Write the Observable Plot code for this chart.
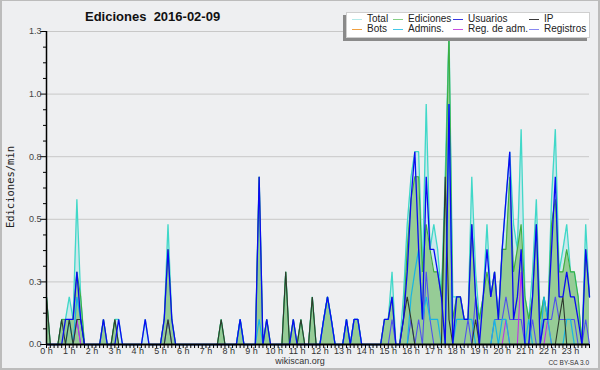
<!DOCTYPE html>
<html>
<head>
<meta charset="utf-8">
<script src="https://cdn.jsdelivr.net/npm/d3@7"></script>
<script src="https://cdn.jsdelivr.net/npm/@observablehq/plot@0.6"></script>
<style>
  html, body { margin: 0; padding: 0; background: #eeeff1; }
  #wrap { position: relative; width: 600px; height: 370px; background: #eeeff1; overflow: hidden;
          font-family: "Liberation Sans", Arial, sans-serif; }
  #frame { position: absolute; left: 0; top: 0; width: 600px; height: 370px; box-sizing: border-box;
           border: 2px solid #bcbcbc; border-top-width: 1px; pointer-events: none; }
  .abs { position: absolute; white-space: nowrap; }
  #title { left: 85px; top: 10px; font-weight: bold; font-size: 13px; line-height: 13px; color: #111; }
  #ylab { left: -40.5px; top: 181px; width: 100px; text-align: center; transform: rotate(-90deg);
          font-family: "DejaVu Sans Mono", monospace; font-size: 10.5px; line-height: 12px; color: #222; }
  #legend { left: 346px; top: 12px; width: 244px; height: 26px; box-sizing: border-box; background: #fff;
            border: 1px solid #cfcfcf; box-shadow: -3px 3px 0 #8a8a8a; }
  .lgline { position: absolute; width: 10px; height: 1px; }
  .lgtext { position: absolute; font-size: 10px; line-height: 10px; color: #222; white-space: nowrap; }
  #site { left: 250px; width: 100px; text-align: center; top: 356px; font-size: 9px; line-height: 10px; color: #333; }
  #lic { right: 11px; top: 359px; font-size: 6.5px; line-height: 7px; color: #333; }
</style>
</head>
<body>
<div id="wrap">
  <div id="chart"></div>
  <div id="title" class="abs"></div>
  <div id="ylab" class="abs"></div>
  <div id="legend" class="abs"></div>
  <div id="site" class="abs"></div>
  <div id="lic" class="abs"></div>
  <div id="frame"></div>
</div>
<script>
// ---------- data (edits per minute, one value every 10 minutes, 2016-02-09) ----------
const titleText = "Ediciones\u00a0\u00a02016-02-09";
const yAxisLabel = "Ediciones/min";
const siteText = "wikiscan.org";
const licenseText = "CC BY-SA 3.0";

const hourLabels = ["0 h","1 h","2 h","3 h","4 h","5 h","6 h","7 h","8 h","9 h","10 h","11 h",
  "12 h","13 h","14 h","15 h","16 h","17 h","18 h","19 h","20 h","21 h","22 h","23 h"];
const yTickValues = [0, 0.25, 0.5, 0.75, 1, 1.25];
const yTickLabels = ["0.0", "0.3", "0.5", "0.8", "1.0", "1.3"];

const legendNames = ["Total", "Ediciones", "Usuarios", "IP", "Bots", "Admins.", "Reg. de adm.", "Registros"];
const legendColors = ["#b4eaea", "#86d086", "#3838e0", "#3a3a3a", "#f0a040", "#44c8e8", "#c850e0", "#8888f0"];

const total = [
0.19,0,0,0,0.1,0.1,0.19,0.1,0.58,0.19,0,0,
0,0,0,0.1,0,0,0.1,0.1,0,0,0,0,
0,0,0.1,0,0,0,0,0.1,0.48,0.1,0,0,
0,0,0,0,0,0,0,0,0,0,0.1,0,
0,0,0,0.1,0,0,0,0,0.67,0,0.1,0,
0,0,0,0.29,0,0.1,0,0.1,0,0,0.19,0,
0,0.1,0.19,0.1,0,0,0,0.1,0,0.1,0.1,0,
0,0,0,0,0,0.1,0.1,0.29,0,0,0.19,0.48,
0.67,0.77,0.77,0.29,0.96,0.38,0.48,0.38,0.19,0.67,1.25,0.19,
0.19,0.19,0.1,0.1,0.67,0.29,0.1,0.19,0.48,0.19,0.29,0.1,
0.38,0.58,0.77,0.48,0.38,0.86,0.19,0.1,0.29,0.58,0.1,0.19,
0.1,0.58,0.86,0.29,0.38,0.48,0.29,0.29,0.19,0,0.48,0.19];

const ediciones = [
0.19,0,0,0,0.1,0.1,0.1,0.1,0.29,0.19,0,0,
0,0,0,0.1,0,0,0.1,0,0,0,0,0,
0,0,0,0,0,0,0,0.1,0.38,0.1,0,0,
0,0,0,0,0,0,0,0,0,0,0.1,0,
0,0,0,0.1,0,0,0,0,0.67,0,0.1,0,
0,0,0,0.29,0,0.1,0,0.1,0,0,0.19,0,
0,0.1,0.19,0.1,0,0,0,0.1,0,0.1,0.1,0,
0,0,0,0,0,0.1,0.1,0.19,0,0,0.1,0.38,
0.58,0.67,0.67,0.29,0.48,0.38,0.29,0.29,0.19,0.58,1.25,0.1,
0.19,0.19,0.1,0.1,0.48,0.19,0.1,0.19,0.29,0.19,0.29,0.1,
0.38,0.38,0.67,0.29,0.38,0.48,0.19,0.1,0.19,0.48,0.1,0.19,
0.1,0.48,0.58,0.29,0.29,0.38,0.29,0.29,0.19,0,0.38,0.19];

const usuarios = [
0,0,0,0,0,0.1,0.1,0.1,0.29,0.1,0,0,
0,0,0,0.1,0,0,0,0.1,0,0,0,0,
0,0,0.1,0,0,0,0,0.1,0.38,0.1,0,0,
0,0,0,0,0,0,0,0,0,0,0,0,
0,0,0,0.1,0,0,0,0,0.67,0,0.1,0,
0,0,0,0,0,0.1,0,0,0,0,0,0,
0,0.1,0.19,0.1,0,0,0,0.1,0,0.1,0.1,0,
0,0,0,0,0,0.1,0.1,0.19,0,0,0.1,0.29,
0.58,0.77,0.38,0.1,0.67,0.38,0.38,0.29,0.19,0,0.96,0,
0.19,0.19,0.1,0.1,0.48,0.19,0,0.19,0.38,0.19,0.29,0.1,
0.38,0.58,0.77,0.1,0.19,0.38,0,0,0.19,0.48,0,0.1,
0.1,0.38,0.67,0.19,0.19,0.29,0.19,0.19,0.1,0,0.38,0.19];

const ip = [
0.19,0,0,0,0.1,0,0.1,0,0.1,0.1,0,0,
0,0,0,0,0,0,0.1,0,0,0,0,0,
0,0,0,0,0,0,0,0,0.1,0,0,0,
0,0,0,0,0,0,0,0,0,0,0.1,0,
0,0,0,0,0,0,0,0,0,0,0,0,
0,0,0,0.29,0,0,0,0.1,0,0,0.19,0,
0,0,0,0,0,0,0,0,0,0,0,0,
0,0,0,0,0,0,0,0,0,0,0.1,0.19,
0.1,0,0,0,0,0,0,0,0,0.67,0.1,0,
0,0,0,0,0,0.1,0,0,0,0,0,0,
0,0,0,0,0,0,0,0,0,0,0,0,
0,0,0,0.1,0.19,0,0,0,0,0,0,0];

const admins = [
0,0,0,0,0,0,0.1,0,0.19,0.1,0,0,
0,0,0,0,0,0,0,0,0,0,0,0,
0,0,0,0,0,0,0,0,0,0,0,0,
0,0,0,0,0,0,0,0,0,0,0,0,
0,0,0,0.1,0,0,0,0,0.1,0,0,0,
0,0,0,0,0,0,0,0,0,0,0,0,
0,0.1,0.19,0.1,0,0,0,0.1,0,0.1,0.1,0,
0,0,0,0,0,0,0,0,0,0,0,0,
0.19,0.29,0.38,0.1,0.19,0.1,0.1,0.1,0,0,0.96,0,
0.1,0.1,0.1,0.1,0.1,0,0,0,0,0,0.1,0,
0.1,0.1,0,0,0,0,0,0.1,0,0,0,0.19,
0.1,0,0,0,0,0.1,0.1,0,0,0,0,0];

const registros = [
0,0,0,0,0,0,0,0,0.1,0,0,0,
0,0,0,0,0,0,0,0,0,0,0,0,
0,0,0,0,0,0,0,0,0.1,0,0,0,
0,0,0,0,0,0,0,0,0,0,0,0,
0,0,0,0,0,0,0,0,0,0,0,0,
0,0,0,0,0,0,0,0,0,0,0,0,
0,0,0,0,0,0,0,0,0,0,0,0,
0,0,0,0,0,0,0,0.1,0,0,0,0,
0.1,0,0.1,0,0.29,0.1,0,0,0,0,0,0,
0,0,0,0.1,0,0.19,0,0,0,0,0.1,0.1,
0.1,0.19,0.1,0.1,0.1,0.1,0,0,0.1,0,0,0.1,
0.1,0.1,0.19,0.1,0.1,0.1,0.1,0.1,0,0,0.1,0];

const regAdm = [
0,0,0,0,0,0,0,0,0.1,0,0,0,
0,0,0,0,0,0,0,0,0,0,0,0,
0,0,0,0,0,0,0,0,0,0,0,0,
0,0,0,0,0,0,0,0,0,0,0,0,
0,0,0,0,0,0,0,0,0,0,0,0,
0,0,0,0,0,0,0,0,0,0,0,0,
0,0,0,0,0,0,0,0,0,0,0,0,
0,0,0,0,0,0,0,0,0,0,0,0,
0,0,0,0,0,0,0,0,0,0,0,0,
0,0,0,0,0,0,0,0,0,0,0,0,
0,0.1,0,0,0,0.29,0,0,0,0,0,0,
0.1,0,0,0,0,0,0,0,0,0,0,0];

// ---------- build ----------
const minutes = d3.range(0, 1440, 10);           // sample times (minutes of the day)
const rows = arr => arr.map((v, i) => ({m: minutes[i], v}));
const hourTicks = hourLabels.map((_, h) => h * 60);
const yMinor = d3.range(0, 1.25 + 1e-9, 0.0625).filter(v => !yTickValues.some(t => Math.abs(t - v) < 1e-9));
const yLabelOf = new Map(yTickValues.map((t, i) => [t, yTickLabels[i]]));

const lineSpec = [
  [total, "#40d8c8", 1.3],
  [ediciones, "#3fae3f", 1.1],
  [registros, "#5050ee", 1.1],
  [regAdm, "#c030e8", 1.1],
  [admins, "#18b4e4", 1.2],
  [ip, "#2e3a2e", 1.1],
  [usuarios, "#0a0af2", 1.3]
];

const chart = Plot.plot({
  width: 600,
  height: 370,
  marginLeft: 46,
  marginRight: 11,
  marginTop: 31,
  marginBottom: 26,
  style: {background: "transparent", overflow: "visible", fontFamily: "'Liberation Sans', Arial, sans-serif"},
  x: {domain: [0, 1430]},
  y: {domain: [0, 1.25]},
  marks: [
    Plot.gridY(yTickValues.slice(1), {stroke: "#c8c8c8", strokeOpacity: 1, strokeWidth: 1}),
    Plot.areaY(rows(total), {x: "m", y: "v", fill: "#cbe8ec", fillOpacity: 1}),
    Plot.areaY(rows(ediciones), {x: "m", y: "v", fill: "#96cc96", fillOpacity: 1}),
    ...lineSpec.map(([arr, color, w]) =>
      Plot.lineY(rows(arr), {x: "m", y: "v", stroke: color, strokeWidth: w, strokeLinejoin: "miter"})),
    Plot.ruleX([0], {y1: 0, y2: 1.25, stroke: "#000", strokeWidth: 1.5}),
    Plot.axisY(yTickValues, {tickSize: 6, tickPadding: -1, tickFormat: d => yLabelOf.get(d),
      fontSize: 9, color: "#444", stroke: "#000", label: null}),
    Plot.axisY(yMinor, {tickSize: 3, tickFormat: () => "", stroke: "#000", label: null}),
    Plot.axisX(minutes, {tickSize: 4, tickFormat: () => "", stroke: "#000", label: null}),
    Plot.axisX(hourTicks, {tickSize: 0, tickPadding: 3, tickFormat: d => hourLabels[d / 60],
      fontSize: 9, color: "#333", label: null}),
    Plot.ruleY([0], {stroke: "#000", strokeWidth: 2})
  ]
});
document.getElementById("chart").appendChild(chart);

document.getElementById("title").textContent = titleText;
document.getElementById("ylab").textContent = yAxisLabel;
document.getElementById("site").textContent = siteText;
document.getElementById("lic").textContent = licenseText;

// legend: 2 rows x 4 columns
const legend = document.getElementById("legend");
const colLine = [5, 46, 106, 182];   // relative to legend box
const rowY = [6, 16];
legendNames.forEach((name, i) => {
  const r = Math.floor(i / 4), c = i % 4;
  const ln = document.createElement("div");
  ln.className = "lgline";
  ln.style.left = colLine[c] + "px";
  ln.style.top = rowY[r] + "px";
  ln.style.background = legendColors[i];
  legend.appendChild(ln);
  const tx = document.createElement("div");
  tx.className = "lgtext";
  tx.style.left = (colLine[c] + 15) + "px";
  tx.style.top = (rowY[r] - 5) + "px";
  tx.textContent = name;
  legend.appendChild(tx);
});
</script>
</body>
</html>
